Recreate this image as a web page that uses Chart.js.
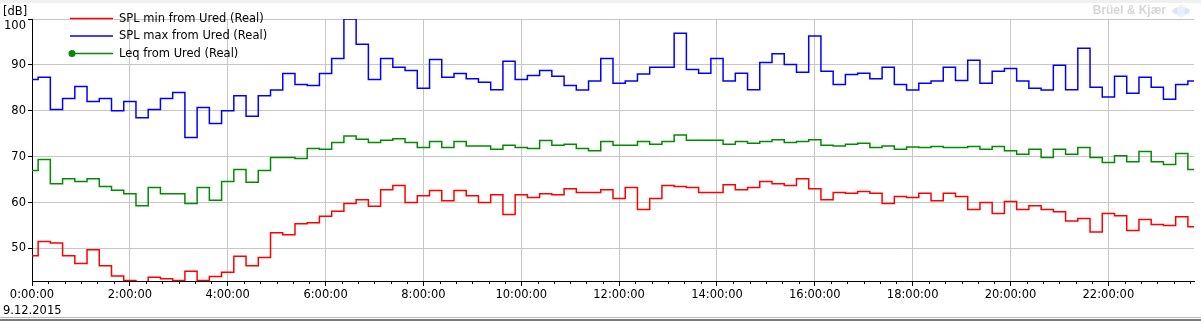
<!DOCTYPE html>
<html>
<head>
<meta charset="utf-8">
<title>Ured - 9.12.2015</title>
<script src="https://cdn.jsdelivr.net/npm/chart.js@4.4.1/dist/chart.umd.min.js"></script>
<style>
  html, body { margin: 0; padding: 0; background: #fff; }
  #wrap { width: 1201px; height: 321px; }
</style>
</head>
<body>
<div id="wrap"><canvas id="uredChart" width="1201" height="321"></canvas></div>
<script>
// one value every 15 minutes, 0:00 .. 23:45
const slotHours = 0.25;

const splMin = [
    48.4, 51.5, 51.2, 48.4, 46.7, 49.7, 46.2, 44.0, 43.0, 42.0, 43.7, 43.4,
    43.0, 45.0, 43.0, 43.9, 44.8, 48.3, 46.2, 48.0, 53.4, 53.0, 55.4, 55.6,
    57.0, 58.1, 59.8, 60.6, 59.2, 62.8, 63.7, 60.0, 61.5, 62.6, 60.4, 62.6,
    61.5, 60.0, 61.7, 57.4, 61.7, 61.1, 61.9, 61.7, 63.0, 62.2, 62.2, 62.8,
    60.9, 63.3, 58.5, 60.9, 63.7, 63.5, 63.3, 62.2, 62.2, 63.9, 62.8, 63.3,
    64.6, 64.1, 63.7, 65.2, 63.0, 60.6, 62.2, 62.0, 62.4, 62.0, 59.8, 61.3,
    61.1, 62.0, 60.4, 62.0, 61.3, 58.5, 60.0, 57.6, 60.2, 58.5, 59.3, 58.5,
    58.0, 56.0, 56.5, 53.6, 57.6, 57.1, 53.9, 56.3, 55.2, 55.0, 56.9, 54.7
];
const splMax = [
    86.8, 87.3, 80.3, 82.7, 85.3, 82.0, 82.7, 80.0, 82.0, 78.5, 80.3, 82.7,
    84.0, 74.2, 80.7, 77.2, 80.0, 83.3, 78.8, 83.3, 84.5, 88.1, 85.7, 85.5,
    88.1, 91.4, 100.0, 94.5, 86.8, 91.4, 89.5, 88.8, 84.9, 91.2, 87.3, 88.1,
    87.0, 86.2, 84.6, 90.8, 86.8, 87.7, 88.8, 87.5, 85.5, 84.5, 86.5, 91.4,
    86.0, 86.5, 88.0, 89.5, 89.5, 96.9, 89.0, 88.2, 91.4, 86.5, 88.2, 84.6,
    90.5, 92.4, 90.1, 88.4, 96.3, 88.6, 85.7, 87.9, 88.2, 87.0, 89.5, 85.7,
    84.5, 86.0, 86.5, 89.5, 86.6, 91.0, 86.0, 88.6, 89.2, 86.5, 84.9, 84.5,
    89.9, 84.6, 93.6, 85.1, 83.0, 87.5, 83.8, 87.3, 85.1, 82.5, 85.7, 86.5
];
const leq = [
    67.0, 69.4, 64.1, 65.2, 64.6, 65.2, 63.5, 62.7, 61.9, 59.3, 63.3, 61.9,
    61.9, 59.8, 63.3, 60.5, 64.6, 67.2, 64.4, 67.0, 69.8, 69.8, 69.6, 71.8,
    71.6, 73.1, 74.5, 73.8, 73.1, 73.6, 73.9, 73.1, 72.0, 73.3, 72.0, 73.3,
    72.3, 72.3, 71.6, 72.5, 72.0, 71.8, 73.5, 72.5, 72.7, 71.8, 71.3, 73.3,
    72.5, 72.5, 73.3, 72.7, 73.3, 74.7, 73.6, 73.6, 73.6, 72.7, 73.3, 72.9,
    73.3, 73.7, 73.1, 73.3, 73.7, 72.5, 72.3, 72.7, 72.9, 72.0, 72.3, 71.6,
    72.1, 72.0, 72.2, 72.0, 72.0, 72.2, 71.6, 72.2, 71.3, 70.5, 71.6, 69.8,
    71.6, 70.5, 72.0, 69.8, 68.7, 70.2, 68.9, 71.1, 68.9, 68.3, 70.7, 67.2
];

const xTicks = [0, 2, 4, 6, 8, 10, 12, 14, 16, 18, 20, 22];
const yTicks = [50, 60, 70, 80, 90, 100];
const seriesNames = ['SPL min from Ured (Real)', 'SPL max from Ured (Real)', 'Leq from Ured (Real)'];
const seriesColors = ['#ff0000', '#0000ff', '#008c00'];
const dateLabel = '9.12.2015';
const unitLabel = '[dB]';

const toPoints = function(vals) {
    return vals.map(function(v, i) { return { x: i * slotHours, y: v }; });
};

const fontFamily = '"DejaVu Sans", Tahoma, sans-serif';
Chart.defaults.font.family = fontFamily;
Chart.defaults.font.size = 11.5;
Chart.defaults.color = '#000';

// frame, labels, minor ticks, legend and logo text
const decorPlugin = {
    id: 'uredDecor',
    beforeDraw(chart) {
        const ctx = chart.ctx;
        ctx.save();
        ctx.fillStyle = '#fff';
        ctx.fillRect(0, 0, chart.width, chart.height);
        ctx.fillStyle = '#f0f0f0';
        ctx.fillRect(0, 0, chart.width, 3);
        ctx.fillStyle = '#b8b8b8';
        ctx.fillRect(0, 317, chart.width, 1);
        ctx.fillStyle = '#7a7a7a';
        ctx.fillRect(0, 319, chart.width, 2);
        ctx.restore();
    },
    afterDraw(chart) {
        const ctx = chart.ctx;
        const xs = chart.scales.x;
        const area = chart.chartArea;
        ctx.save();

        // minor ticks every 20 minutes
        ctx.strokeStyle = '#000';
        ctx.lineWidth = 1;
        ctx.beginPath();
        for (let m = 20; m < xs.max * 60; m += 20) {
            if (m % 120 === 0) continue;
            const px = Math.round(xs.getPixelForValue(m / 60)) + 0.5;
            ctx.moveTo(px, area.bottom);
            ctx.lineTo(px, area.bottom + 3);
        }
        ctx.stroke();

        ctx.fillStyle = '#000';
        ctx.font = '11.5px ' + fontFamily;
        ctx.textBaseline = 'middle';
        ctx.textAlign = 'left';
        ctx.fillText(unitLabel, 3, 12);
        ctx.fillText(dateLabel, 3, 311);

        // legend
        chart.data.datasets.forEach(function(ds, i) {
            const y = 18.5 + i * 17.5;
            ctx.strokeStyle = ds.borderColor;
            ctx.lineWidth = 1.5;
            ctx.beginPath();
            ctx.moveTo(70, y);
            ctx.lineTo(113, y);
            ctx.stroke();
            if (ds.legendMarker) {
                ctx.fillStyle = ds.borderColor;
                ctx.beginPath();
                ctx.arc(72, y, 3.5, 0, Math.PI * 2);
                ctx.fill();
            }
            ctx.fillStyle = '#000';
            ctx.fillText(ds.label, 119, y + 0.5);
        });

        // watermark
        ctx.fillStyle = '#d6d6d6';
        ctx.font = 'bold 12px "Liberation Sans", Arial, sans-serif';
        ctx.textAlign = 'right';
        ctx.fillText('Brüel & Kjær', 1166, 11);
        ctx.fillStyle = '#d8e6f8';
        ctx.beginPath();
        ctx.ellipse(1181, 11, 9, 4, 0, 0, Math.PI * 2);
        ctx.fill();
        ctx.fillStyle = '#e8f0fb';
        ctx.beginPath();
        ctx.ellipse(1181, 11, 4, 6, 0, 0, Math.PI * 2);
        ctx.fill();

        ctx.restore();
    }
};

const makeDataset = function(i, vals, marker) {
    return {
        label: seriesNames[i],
        data: toPoints(vals),
        borderColor: seriesColors[i],
        backgroundColor: seriesColors[i],
        borderWidth: 1.5,
        stepped: 'middle',
        pointRadius: 0,
        fill: false,
        legendMarker: marker
    };
};

const ctx = document.getElementById('uredChart').getContext('2d');
const uredChart = new Chart(ctx, {
    type: 'line',
    data: {
        datasets: [
            makeDataset(0, splMin, false),
            makeDataset(1, splMax, false),
            makeDataset(2, leq, true)
        ]
    },
    options: {
        responsive: false,
        animation: false,
        events: [],
        layout: { padding: { top: 19, right: 7, bottom: 0, left: 0 } },
        plugins: {
            legend: { display: false },
            tooltip: { enabled: false }
        },
        scales: {
            x: {
                type: 'linear',
                min: 0,
                max: 23.75,
                afterBuildTicks: function(s) { s.ticks = xTicks.map(function(v) { return { value: v }; }); },
                afterFit: function(s) { s.height = 40; },
                grid: { color: '#c6c6c6', tickColor: '#000', tickLength: 5, lineWidth: 1 },
                border: { color: '#000', width: 1 },
                ticks: {
                    color: '#000',
                    padding: 2,
                    maxRotation: 0,
                    autoSkip: false,
                    callback: function(v) { return v + ':00:00'; }
                }
            },
            y: {
                type: 'linear',
                min: 42.9,
                max: 100,
                afterBuildTicks: function(s) { s.ticks = yTicks.map(function(v) { return { value: v }; }); },
                afterFit: function(s) { s.width = 32; },
                grid: { color: '#c6c6c6', tickColor: '#000', tickLength: 4, lineWidth: 1 },
                border: { color: '#000', width: 1 },
                ticks: {
                    color: '#000',
                    padding: 2,
                    // top label sits just below the top edge, as in the original
                    callback: function(v) { return v === 100 ? ['', '100'] : String(v); }
                }
            }
        }
    },
    plugins: [decorPlugin]
});
</script>
</body>
</html>
